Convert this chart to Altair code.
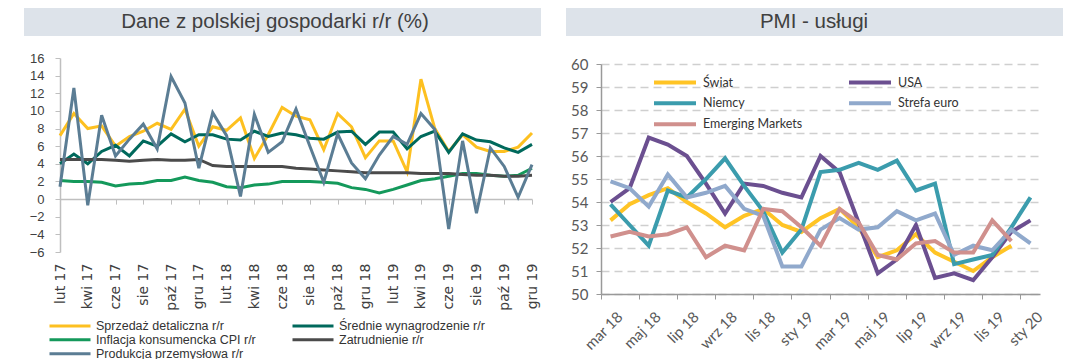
import altair as alt
import pandas as pd

# ---------------- Left panel: Polish economy data (y/y %) ----------------
miesiace_pl = ["lut 17", "mar 17", "kwi 17", "maj 17", "cze 17", "lip 17", "sie 17", "wrz 17", "paź 17", "lis 17", "gru 17",
               "sty 18", "lut 18", "mar 18", "kwi 18", "maj 18", "cze 18", "lip 18", "sie 18", "wrz 18", "paź 18", "lis 18", "gru 18",
               "sty 19", "lut 19", "mar 19", "kwi 19", "maj 19", "cze 19", "lip 19", "sie 19", "wrz 19", "paź 19", "lis 19", "gru 19"]

sprzedaz = [7.2, 9.7, 8.0, 8.3, 6.0, 7.1, 7.7, 8.6, 7.9, 10.2, 6.0, 8.2, 7.8, 9.2, 4.6, 7.3, 10.4, 9.4, 9.0, 5.6,
            9.7, 8.2, 4.7, 6.6, 6.6, 3.1, 13.6, 8.0, 5.4, 7.3, 5.9, 5.4, 5.4, 5.9, 7.5]
wynagrodzenie = [4.0, 5.1, 4.0, 5.4, 6.1, 4.9, 6.6, 6.0, 7.4, 6.5, 7.3, 7.3, 6.8, 6.7, 7.7, 7.1, 7.5, 7.3, 6.9, 6.8,
                 7.6, 7.7, 6.2, 7.6, 7.6, 5.7, 7.1, 7.7, 5.3, 7.4, 6.7, 6.5, 5.8, 5.3, 6.2]
inflacja = [2.1, 2.0, 2.0, 1.9, 1.5, 1.7, 1.8, 2.1, 2.1, 2.5, 2.1, 1.9, 1.4, 1.3, 1.6, 1.7, 2.0, 2.0, 2.0, 1.9,
            1.8, 1.3, 1.1, 0.7, 1.1, 1.6, 2.1, 2.3, 2.6, 2.9, 2.9, 2.7, 2.6, 2.7, 3.5]
zatrudnienie = [4.5, 4.5, 4.5, 4.5, 4.4, 4.3, 4.4, 4.5, 4.4, 4.4, 4.5, 3.8, 3.7, 3.7, 3.7, 3.7, 3.7, 3.5, 3.4, 3.3,
                3.2, 3.1, 3.0, 3.0, 3.0, 3.0, 2.9, 2.9, 2.9, 2.8, 2.7, 2.7, 2.6, 2.6, 2.7]
produkcja = [1.4, 12.6, -0.7, 9.5, 4.9, 6.8, 8.5, 5.7, 13.9, 10.9, 3.5, 9.8, 7.2, 0.3, 9.6, 5.3, 6.5, 10.2, 6.0, 1.9,
             7.4, 4.1, 2.3, 5.0, 7.1, 6.2, 9.7, 7.9, -3.4, 6.6, -1.6, 5.8, 3.7, 0.2, 3.9]

serie_pl = ["Sprzedaż detaliczna r/r", "Średnie wynagrodzenie r/r", "Inflacja konsumencka CPI r/r",
            "Zatrudnienie r/r", "Produkcja przemysłowa r/r"]
kolory_pl = ["#fdc020", "#00695c", "#14995b", "#4b4b4b", "#5b7d94"]
wartosci_pl = [sprzedaz, wynagrodzenie, inflacja, zatrudnienie, produkcja]
# legend fills column by column: left column first, then right column
kolejnosc_legendy_pl = [0, 2, 4, 1, 3]
tytul_pl = "Dane z polskiej gospodarki r/r (%)"

# ---------------- Right panel: PMI services ----------------
miesiace_r = ["mar 18", "kwi 18", "maj 18", "cze 18", "lip 18", "sie 18", "wrz 18", "paź 18", "lis 18", "gru 18",
              "sty 19", "lut 19", "mar 19", "kwi 19", "maj 19", "cze 19", "lip 19", "sie 19", "wrz 19", "paź 19",
              "lis 19", "gru 19", "sty 20"]
swiat = [53.2, 53.9, 54.3, 54.6, 54.0, 53.5, 52.9, 53.4, 53.7, 53.0, 52.7, 53.3, 53.7, 52.9, 51.6, 51.9, 52.6, 51.8,
         51.4, 51.0, 51.6, 52.1]
usa = [54.0, 54.6, 56.8, 56.5, 56.0, 54.8, 53.5, 54.8, 54.7, 54.4, 54.2, 56.0, 55.3, 53.1, 50.9, 51.5, 53.0, 50.7,
       50.9, 50.6, 51.6, 52.7, 53.2]
niemcy = [53.9, 53.0, 52.1, 54.5, 54.2, 55.0, 55.9, 54.7, 53.6, 51.8, 52.8, 55.3, 55.4, 55.7, 55.4, 55.8, 54.5, 54.8,
          51.3, 51.5, 51.7, 52.9, 54.2]
strefa_euro = [54.9, 54.6, 53.8, 55.2, 54.2, 54.4, 54.7, 53.7, 53.4, 51.2, 51.2, 52.8, 53.3, 52.8, 52.9, 53.6, 53.2,
               53.5, 51.7, 52.1, 51.9, 52.8, 52.2]
emerging = [52.5, 52.7, 52.5, 52.6, 52.9, 51.6, 52.1, 51.9, 53.7, 53.6, 52.9, 52.1, 53.7, 53.1, 51.7, 51.5, 52.2,
            52.3, 51.8, 51.8, 53.2, 52.3]

serie_r = ["Świat", "USA", "Niemcy", "Strefa euro", "Emerging Markets"]
kolory_r = ["#ffc425", "#6b4f90", "#3b9cad", "#90a9cc", "#d0908d"]
wartosci_r = [swiat, usa, niemcy, strefa_euro, emerging]
kolejnosc_legendy_r = [0, 2, 4, 1, 3]
tytul_r = "PMI - usługi"


def long_table(months, names, values):
    rows = []
    for name, vals in zip(names, values):
        for m, v in zip(months, vals):
            rows.append({"miesiac": m, "seria": name, "wartosc": v})
    return pd.DataFrame(rows)


df_pl = long_table(miesiace_pl, serie_pl, wartosci_pl)
df_r = long_table(miesiace_r, serie_r, wartosci_r)

dom_pl = [serie_pl[i] for i in kolejnosc_legendy_pl]
rng_pl = [kolory_pl[i] for i in kolejnosc_legendy_pl]
dom_r = [serie_r[i] for i in kolejnosc_legendy_r]
rng_r = [kolory_r[i] for i in kolejnosc_legendy_r]

FONT = "Liberation Sans"
BOX = "#dde3ea"

# ---------------- Left chart ----------------
W1, H1 = 472, 194
zero_off = -H1 * 6 / 22

box_l = alt.Chart(pd.DataFrame({"t": [tytul_pl]})).mark_rect(color=BOX).encode(
    x=alt.value(-36), x2=alt.value(481), y=alt.value(-50), y2=alt.value(-22))
title_l = alt.Chart(pd.DataFrame({"t": [tytul_pl]})).mark_text(
    font=FONT, fontSize=20.5, color="#404040", baseline="middle", align="center").encode(
    x=alt.value(215), y=alt.value(-36), text="t:N")

lines_l = alt.Chart(df_pl).mark_line(strokeWidth=3).encode(
    x=alt.X("miesiac:N", sort=miesiace_pl,
            scale=alt.Scale(type="point", padding=0),
            axis=alt.Axis(values=miesiace_pl[::2], labelAngle=-90, labelAlign="right", labelBaseline="middle",
                          offset=zero_off, labelPadding=59, tickSize=5, tickColor="#bfbfbf",
                          domainColor="#bfbfbf", domainWidth=1.5, labelFont="DejaVu Sans", labelFontSize=14,
                          labelColor="#404040", title=None, labelOverlap=False)),
    y=alt.Y("wartosc:Q", scale=alt.Scale(domain=[-6, 16], nice=False, zero=False),
            axis=alt.Axis(values=list(range(-6, 17, 2)), grid=False, tickSize=5, tickColor="#bfbfbf",
                          domainColor="#bfbfbf", domainWidth=1.5, labelFont=FONT, labelFontSize=13,
                          labelColor="#404040", labelPadding=11, title=None)),
    color=alt.Color("seria:N", sort=dom_pl, scale=alt.Scale(domain=dom_pl, range=rng_pl),
                    legend=alt.Legend(title=None, orient="none", legendX=-12, legendY=261, columns=2,
                                      columnPadding=35, rowPadding=0, clipHeight=13.5, symbolType="stroke",
                                      symbolSize=1681, symbolStrokeWidth=3, labelFont=FONT, labelFontSize=12.5,
                                      labelColor="#333333", labelOffset=4, padding=0)),
)

left = alt.layer(box_l, title_l, lines_l).properties(width=W1, height=H1)

# ---------------- Right chart ----------------
W2, H2 = 439, 236
band = W2 / len(miesiace_r)

box_r = alt.Chart(pd.DataFrame({"t": [tytul_r]})).mark_rect(color=BOX).encode(
    x=alt.value(-35), x2=alt.value(462), y=alt.value(-50), y2=alt.value(-22))
title_r = alt.Chart(pd.DataFrame({"t": [tytul_r]})).mark_text(
    font=FONT, fontSize=20.5, color="#404040", baseline="middle", align="center").encode(
    x=alt.value(213), y=alt.value(-36), text="t:N")

lines_r = alt.Chart(df_r).mark_line(strokeWidth=4).encode(
    x=alt.X("miesiac:N", sort=miesiace_r,
            scale=alt.Scale(type="band", paddingInner=0, paddingOuter=0),
            axis=alt.Axis(values=miesiace_r[::2], labelAngle=-45, labelAlign="right", labelBaseline="middle",
                          bandPosition=0, labelOffset=band / 2, tickSize=5, labelPadding=15,
                          tickColor="#999999", domainColor="#999999", domainWidth=1.5, labelFont="Lato",
                          labelFontSize=15, labelColor="#595959", title=None, labelOverlap=False)),
    y=alt.Y("wartosc:Q", scale=alt.Scale(domain=[50, 60], range=[H2, 6], nice=False, zero=False),
            axis=alt.Axis(values=list(range(50, 61)), grid=True, gridDash=[8, 5], gridColor="#cfcfcf",
                          gridWidth=1.5, tickSize=5, tickColor="#999999", domainColor="#999999", domainWidth=1.5,
                          labelFont="Lato", labelFontSize=15, labelColor="#595959", labelPadding=8, title=None)),
    color=alt.Color("seria:N", sort=dom_r, scale=alt.Scale(domain=dom_r, range=rng_r),
                    legend=alt.Legend(title=None, orient="none", legendX=51, legendY=14, columns=2,
                                      columnPadding=44, rowPadding=0, clipHeight=20.4, symbolType="stroke",
                                      symbolSize=1764, symbolStrokeWidth=4, labelFont="Lato", labelFontSize=12.5,
                                      labelColor="#333333", labelOffset=5, padding=0)),
)

right = alt.layer(box_r, title_r, lines_r).properties(width=W2, height=H2)

chart = alt.hconcat(left, right, spacing=69).resolve_scale(color="independent").properties(
    bounds="flush", padding={"left": 16, "top": 0, "right": 0, "bottom": 0}
).configure_view(stroke=None)

chart.save("out.html", embed_options={"renderer": "svg", "actions": False})
